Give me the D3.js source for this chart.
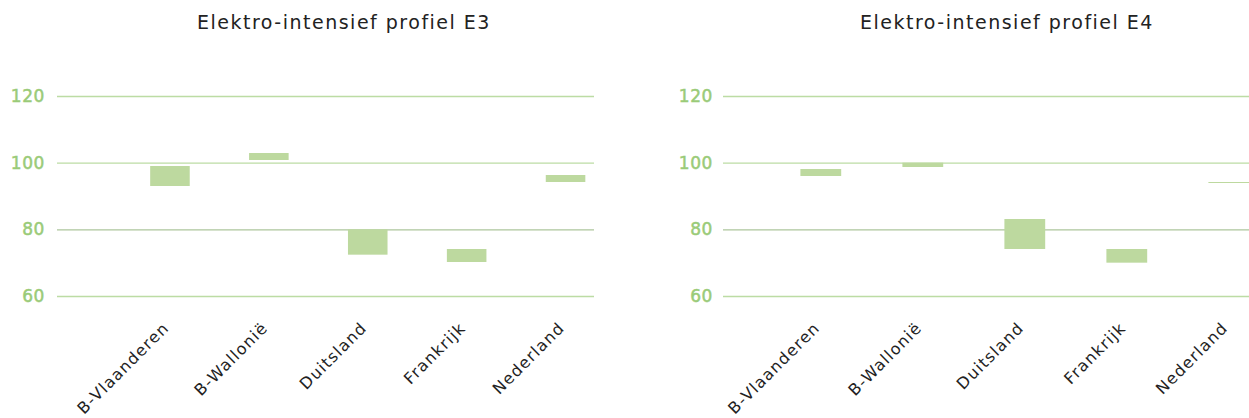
<!DOCTYPE html>
<html>
<head>
<meta charset="utf-8">
<style>
  body { margin: 0; background: #fff; }
  svg { display: block; }
  text { font-family: "DejaVu Sans", sans-serif; }
</style>
</head>
<body>
<svg id="chart"></svg>
<script src="https://cdnjs.cloudflare.com/ajax/libs/d3/7.8.5/d3.min.js"></script>
<script>
  // categories and floating-bar ranges (low / high)
  const categories = ["B-Vlaanderen", "B-Wallonië", "Duitsland", "Frankrijk", "Nederland"];
  const e3Low  = [93, 100.8, 72.4, 70.2, 94.2];
  const e3High = [99, 102.9, 80, 74.1, 96.3];
  const e4Low  = [96, 98.7, 74.1, 70, 93.9];
  const e4High = [98.1, 100, 83.1, 74.1, 94.2];
  const yTicks = [60, 80, 100, 120];
  const titles = ["Elektro-intensief profiel E3", "Elektro-intensief profiel E4"];

  const WIDTH = 1249, HEIGHT = 418;
  const barColor = "#bdd99f";
  const gridColor = "#bcdca4";
  const tickColor = "#9acb78";

  const svg = d3.select("#chart")
      .attr("width", WIDTH)
      .attr("height", HEIGHT);

  const y = d3.scaleLinear().domain([60, 120]).range([296, 96]);

  const panels = [
    {title: titles[0], low: e3Low, high: e3High, gridX: [57, 594], band: [120.5, 615], labelX: 45, titleX: 344},
    {title: titles[1], low: e4Low, high: e4High, gridX: [723, 1260], band: [769.8, 1279.8], labelX: 713, titleX: 1007}
  ];

  panels.forEach(p => {
    const g = svg.append("g");

    const x = d3.scaleBand()
        .domain(categories)
        .range(p.band)
        .paddingInner(0.6)
        .paddingOuter(0.3);

    // gridlines + tick labels
    const axis = g.append("g")
        .attr("transform", `translate(${p.gridX[0]},0)`)
        .call(d3.axisLeft(y)
              .tickValues(yTicks)
              .tickSize(-(p.gridX[1] - p.gridX[0]))
              .tickPadding(p.gridX[0] - p.labelX)
              .tickFormat(d3.format("d")));
    axis.select(".domain").remove();
    axis.selectAll(".tick line")
        .attr("stroke", d => d === 80 ? "#adc69c" : gridColor)
        .attr("stroke-width", 1.4);
    axis.selectAll(".tick text")
        .attr("fill", tickColor)
        .attr("stroke", tickColor)
        .attr("stroke-width", 0.5)
        .style("font-size", "17px")
        .style("letter-spacing", "0.6px")
        .style("font-family", "DejaVu Sans");

    // floating bars
    g.append("g")
      .selectAll("rect")
      .data(categories)
      .join("rect")
        .attr("x", d => x(d))
        .attr("width", x.bandwidth())
        .attr("y", (d, i) => y(p.high[i]))
        .attr("height", (d, i) => Math.max(1, y(p.low[i]) - y(p.high[i])))
        .attr("fill", barColor);

    // rotated category labels
    g.append("g")
      .selectAll("text")
      .data(categories)
      .join("text")
        .attr("transform", d => `translate(${x(d) + x.bandwidth() / 2},329) rotate(-45)`)
        .attr("text-anchor", "end")
        .attr("fill", "#222")
        .style("font-size", "16px")
        .style("letter-spacing", "1.2px")
        .text(d => d);

    g.append("text")
        .attr("x", p.titleX)
        .attr("y", 29)
        .attr("text-anchor", "middle")
        .attr("fill", "#222")
        .style("font-size", "19px")
        .style("letter-spacing", "1.5px")
        .text(p.title);
  });
</script>
</body>
</html>
